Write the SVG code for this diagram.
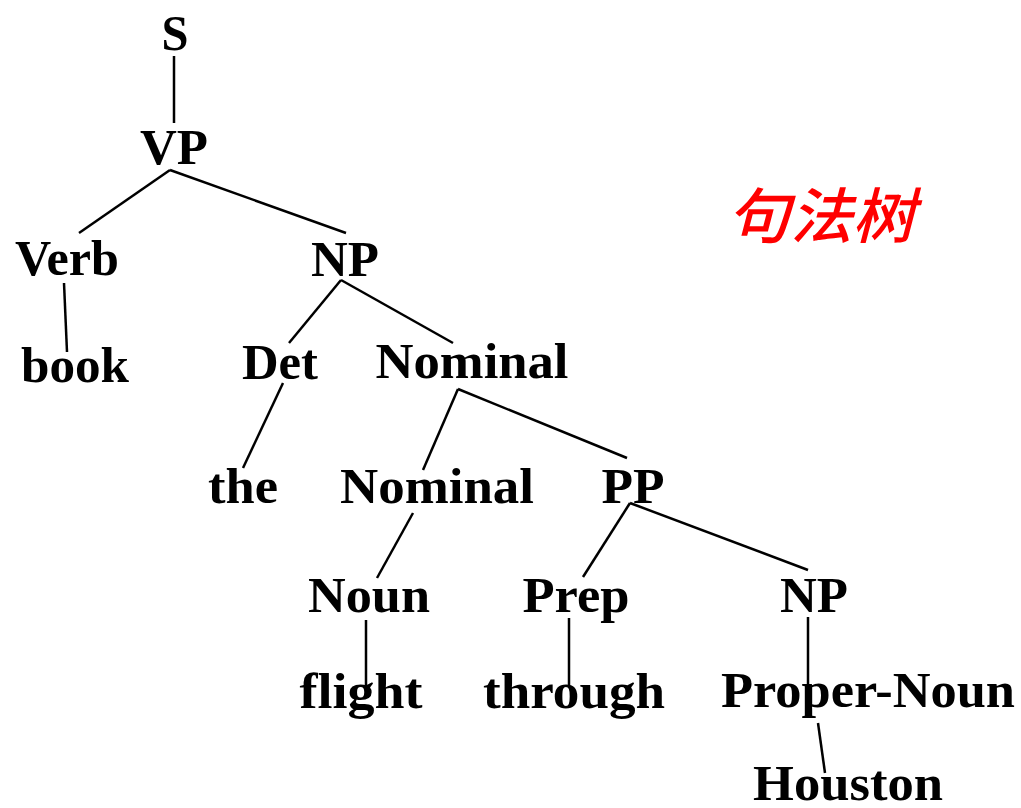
<svg xmlns="http://www.w3.org/2000/svg" width="1021" height="808" viewBox="0 0 1021 808">
<style>
.t{font-family:"Liberation Serif","Times New Roman",serif;font-weight:bold;font-size:51px;fill:#000;text-anchor:middle}
.e{stroke:#000;stroke-width:2.5;fill:none;stroke-linecap:butt}
.c{font-family:"Noto Sans CJK SC",sans-serif;font-style:italic;font-weight:500;font-size:60px;fill:#ff0000}
</style>
<rect width="1021" height="808" fill="#fff"/>
<g id="edges">
<line class="e" x1="174" y1="56" x2="174" y2="123"/>
<line class="e" x1="170" y1="170" x2="79" y2="233"/>
<line class="e" x1="170" y1="170" x2="346" y2="233"/>
<line class="e" x1="64" y1="283" x2="67" y2="352"/>
<line class="e" x1="341" y1="280" x2="289" y2="343"/>
<line class="e" x1="341" y1="280" x2="453" y2="343"/>
<line class="e" x1="283" y1="383" x2="243" y2="468"/>
<line class="e" x1="458" y1="389" x2="423" y2="470"/>
<line class="e" x1="458" y1="389" x2="627" y2="458"/>
<line class="e" x1="413" y1="513" x2="377" y2="578"/>
<line class="e" x1="630" y1="503" x2="583" y2="577"/>
<line class="e" x1="630" y1="503" x2="808" y2="570"/>
<line class="e" x1="366" y1="620" x2="366" y2="686"/>
<line class="e" x1="569" y1="618" x2="569" y2="687"/>
<line class="e" x1="808" y1="617" x2="808" y2="717"/>
<line class="e" x1="818" y1="723" x2="825" y2="773"/>
</g>
<g id="n-S"><text class="t" x="175" y="50" textLength="27" lengthAdjust="spacingAndGlyphs">S</text></g>
<g id="n-VP"><text class="t" x="174" y="164" textLength="68" lengthAdjust="spacingAndGlyphs">VP</text></g>
<g id="n-Verb"><text class="t" x="67" y="275" textLength="104" lengthAdjust="spacingAndGlyphs">Verb</text></g>
<g id="n-NP"><text class="t" x="345" y="276" textLength="68" lengthAdjust="spacingAndGlyphs">NP</text></g>
<g id="n-book"><text class="t" x="75" y="382" textLength="108" lengthAdjust="spacingAndGlyphs">book</text></g>
<g id="n-Det"><text class="t" x="280" y="379" textLength="76" lengthAdjust="spacingAndGlyphs">Det</text></g>
<g id="n-Nominal"><text class="t" x="472" y="378" textLength="193" lengthAdjust="spacingAndGlyphs">Nominal</text></g>
<g id="n-the"><text class="t" x="243" y="503" textLength="70" lengthAdjust="spacingAndGlyphs">the</text></g>
<g id="n-Nominal2"><text class="t" x="437" y="503" textLength="194" lengthAdjust="spacingAndGlyphs">Nominal</text></g>
<g id="n-PP"><text class="t" x="633" y="503" textLength="63" lengthAdjust="spacingAndGlyphs">PP</text></g>
<g id="n-Noun"><text class="t" x="369" y="612" textLength="122" lengthAdjust="spacingAndGlyphs">Noun</text></g>
<g id="n-Prep"><text class="t" x="576" y="612" textLength="107" lengthAdjust="spacingAndGlyphs">Prep</text></g>
<g id="n-NP2"><text class="t" x="814" y="612" textLength="68" lengthAdjust="spacingAndGlyphs">NP</text></g>
<g id="n-flight"><text class="t" x="361" y="708" textLength="123" lengthAdjust="spacingAndGlyphs">flight</text></g>
<g id="n-through"><text class="t" x="574" y="708" textLength="182" lengthAdjust="spacingAndGlyphs">through</text></g>
<g id="n-ProperNoun"><text class="t" x="868" y="707" textLength="294" lengthAdjust="spacingAndGlyphs">Proper-Noun</text></g>
<g id="n-Houston"><text class="t" x="848" y="800" textLength="190" lengthAdjust="spacingAndGlyphs">Houston</text></g>
<g id="title"><text class="c" x="727" y="238" textLength="188" lengthAdjust="spacingAndGlyphs">句法树</text></g>
</svg>
